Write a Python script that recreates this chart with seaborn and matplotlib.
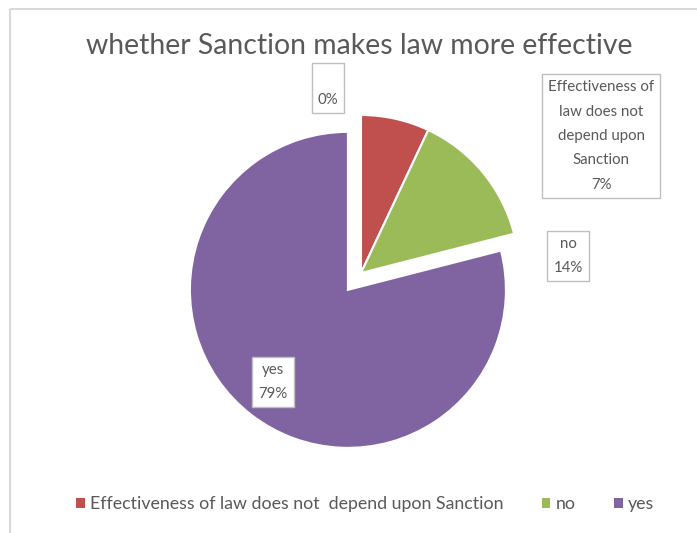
import matplotlib
matplotlib.use("Agg")
import matplotlib.pyplot as plt
import seaborn as sns
from matplotlib.patches import Patch

# Survey shares (percent) for each answer; the first category is blank
categories = ["", "Effectiveness of law does not depend upon Sanction", "no", "yes"]
shares = [0, 7, 14, 79]
label_names = ["", "Effectiveness of\nlaw does not\ndepend upon\nSanction", "no", "yes"]
legend_labels = ["Effectiveness of law does not  depend upon Sanction", "no", "yes"]
title = "whether Sanction makes law more effective"

colors = ["#4F81BD", "#C0504D", "#9BBB59", "#8064A2"]
explode_frac = [0, 0, 0, 0.135]

sns.set_theme(style="white")
plt.rcParams["font.family"] = ["Lato", "DejaVu Sans"]

W, H = 697, 533
R = 158
fig = plt.figure(figsize=(W / 100, H / 100), dpi=100)
ax = fig.add_axes([0, 0, 1, 1])

# matplotlib offsets exploded wedges in data units, so scale by the radius
wedges, _ = ax.pie(
    shares, colors=colors, explode=[f * R for f in explode_frac],
    startangle=90, counterclock=False,
    center=(361, H - 273), radius=R,
    wedgeprops=dict(edgecolor="white", linewidth=1.5),
)
ax.set_xlim(0, W)
ax.set_ylim(0, H)
ax.set_aspect("equal")
ax.axis("off")

# chart area border
ax.plot([10, 10], [0, H - 9], color="#D9D9D9", lw=1.5, solid_capstyle="butt")
ax.plot([10, W], [H - 9, H - 9], color="#D9D9D9", lw=1.5, solid_capstyle="butt")

ax.text(359, H - 46, title, ha="center", va="center", fontsize=20.4, color="#595959")

# data labels: category name and share
label_pos = [(328, H - 88), (601, H - 136), (568, H - 256), (273, H - 382)]
for name, val, (x, y) in zip(label_names, shares, label_pos):
    ax.text(x, y, f"{name}\n{val}%", ha="center", va="center", fontsize=10.8,
            color="#595959", linespacing=1.95,
            bbox=dict(boxstyle="square,pad=0.4", fc="white", ec="#BFBFBF", lw=1))

handles = [Patch(facecolor=c, edgecolor="none") for c in colors[1:]]
fig.legend(handles, legend_labels, loc="center", bbox_to_anchor=(365 / W, 1 - 504 / H),
           ncol=3, frameon=False, fontsize=12.75, handlelength=0.5, handleheight=0.5,
           handletextpad=0.3, columnspacing=2.15, labelcolor="#595959")

fig.savefig("out.png", dpi=100)
